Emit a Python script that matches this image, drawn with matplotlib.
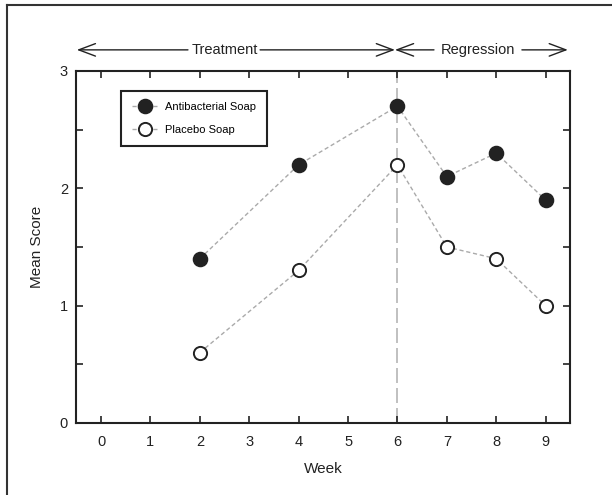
import matplotlib
matplotlib.use("Agg")
import matplotlib.pyplot as plt
from matplotlib.lines import Line2D
from matplotlib.ticker import MultipleLocator

# ── Data ───────────────────────────────────────────────────────────────────────
weeks = [2, 4, 6, 7, 8, 9]
antibacterial = [1.4, 2.2, 2.7, 2.1, 2.3, 1.9]
placebo = [0.6, 1.3, 2.2, 1.5, 1.4, 1.0]
week_ticks = list(range(10))
score_ticks = [0, 1, 2, 3]
phase_split = 6

plt.rcParams["font.family"] = ["Liberation Sans", "DejaVu Sans"]
DARK = "#222222"
GRAY = "#aaaaaa"

fig = plt.figure(figsize=(6.12, 4.95), dpi=100)
ax = fig.add_axes([0.1247, 0.1455, 0.8072, 0.7111])

# phase divider
ax.axvline(phase_split, color="#b5b5b5", lw=1.2, ls=(0, (9, 3)), zorder=1)

ax.plot(weeks, antibacterial, color=GRAY, lw=1, ls=(0, (3, 2)),
        marker="o", ms=10, mfc=DARK, mec=DARK, mew=1.2,
        label="Antibacterial Soap", zorder=3)
ax.plot(weeks, placebo, color=GRAY, lw=1, ls=(0, (3, 2)),
        marker="o", ms=9.5, mfc="white", mec=DARK, mew=1.4,
        label="Placebo Soap", zorder=3)

ax.set_xlim(-0.5, 9.5)
ax.set_ylim(0, 3)
ax.set_xticks(week_ticks)
ax.set_yticks(score_ticks)
ax.yaxis.set_minor_locator(MultipleLocator(0.5))
ax.tick_params(which="both", direction="in", length=5, width=1.2,
               top=True, right=True, colors=DARK, labelsize=10.5,
               labelcolor=DARK, pad=9)
ax.tick_params(axis="y", which="both", pad=6)
for s in ax.spines.values():
    s.set_linewidth(1.5)
    s.set_color(DARK)

ax.set_xlabel("Week", fontsize=11, color=DARK, labelpad=9)
ax.set_ylabel("Mean Score", fontsize=11, color=DARK, labelpad=11)

leg = ax.legend(loc="upper left", bbox_to_anchor=(0.091, 0.943),
                borderaxespad=0, fancybox=False, framealpha=1,
                edgecolor=DARK, fontsize=8, numpoints=1,
                handlelength=2.2, labelspacing=1.15, borderpad=1.0,
                handletextpad=0.7)
leg.get_frame().set_linewidth(1.5)

# ── Phase annotations above the axes ───────────────────────────────────────────
ARROW_Y = 3.18
arrow_kw = dict(arrowstyle="->,head_length=1.2,head_width=0.45",
                lw=1, color=DARK, shrinkA=0, shrinkB=0)
segments = [(1.76, -0.49), (3.22, 5.95), (6.74, 5.95), (8.52, 9.45)]
for tail, tip in segments:
    ax.annotate("", xy=(tip, ARROW_Y), xytext=(tail, ARROW_Y),
                arrowprops=arrow_kw, annotation_clip=False)
ax.text(2.5, ARROW_Y, "Treatment", ha="center", va="center",
        fontsize=10.5, color=DARK, clip_on=False)
ax.text(7.63, ARROW_Y, "Regression", ha="center", va="center",
        fontsize=10.5, color=DARK, clip_on=False)

# outer frame (left and top edges visible)
fig.add_artist(Line2D([7 / 612, 7 / 612], [0, 1 - 5 / 495],
                      color="#333333", lw=1.5, transform=fig.transFigure))
fig.add_artist(Line2D([7 / 612, 1], [1 - 5 / 495, 1 - 5 / 495],
                      color="#333333", lw=1.5, transform=fig.transFigure))

fig.savefig("out.png", dpi=100)
